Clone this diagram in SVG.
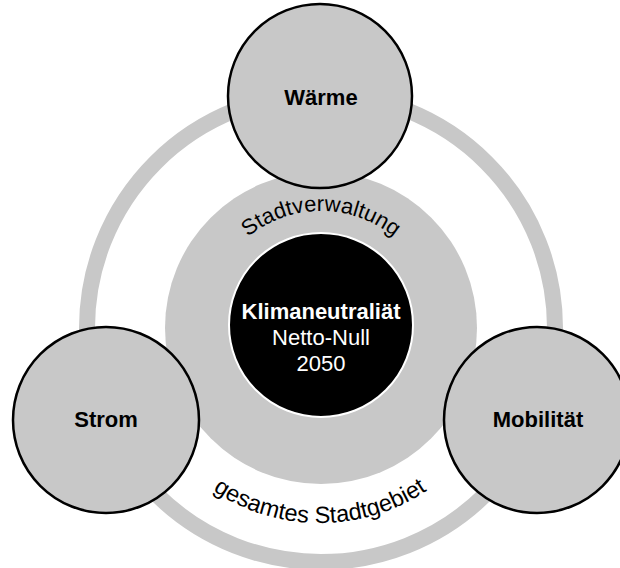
<svg xmlns="http://www.w3.org/2000/svg" width="620" height="568" viewBox="0 0 620 568">
  <style>
    .node { fill: #c8c8c8; stroke: #000; stroke-width: 2.5; }
    .lbl { font-family: "Liberation Sans", Arial, sans-serif; font-size: 22px; font-weight: bold; fill: #000; text-anchor: middle; }
    .ctr { font-family: "Liberation Sans", Arial, sans-serif; font-size: 22px; fill: #fff; text-anchor: middle; }
    .arc { font-family: "Liberation Sans", Arial, sans-serif; font-size: 22px; fill: #000; }
  </style>
  <defs>
    <path id="arcTop" d="M 205 327 A 116 116 0 0 1 437 327"/>
    <path id="arcBottom" d="M 127 330 A 193 193 0 0 0 513 330"/>
  </defs>
  <rect width="620" height="568" fill="#fff"/>
  <g id="gesamtes-stadtgebiet">
    <circle cx="321" cy="328" r="234" fill="none" stroke="#c8c8c8" stroke-width="16"/>
    <text class="arc" style="font-size:23.5px"><textPath href="#arcBottom" startOffset="50%" text-anchor="middle">gesamtes Stadtgebiet</textPath></text>
  </g>
  <g id="stadtverwaltung">
    <circle cx="321" cy="328" r="156" fill="#c8c8c8"/>
    <text class="arc"><textPath href="#arcTop" startOffset="50%" text-anchor="middle">Stadtverwaltung</textPath></text>
  </g>
  <g id="klimaneutralitaet">
    <circle cx="321" cy="325" r="92" fill="#000" stroke="#fff" stroke-width="2"/>
    <text class="ctr" x="321" y="319" font-weight="bold">Klimaneutraliät</text>
    <text class="ctr" x="321" y="345">Netto-Null</text>
    <text class="ctr" x="321" y="371">2050</text>
  </g>
  <g id="waerme">
    <circle class="node" cx="320" cy="96" r="92"/>
    <text class="lbl" x="321" y="105">Wärme</text>
  </g>
  <g id="strom">
    <circle class="node" cx="106" cy="420" r="93"/>
    <text class="lbl" x="106" y="427">Strom</text>
  </g>
  <g id="mobilitaet">
    <circle class="node" cx="537" cy="420" r="93"/>
    <text class="lbl" x="538" y="427">Mobilität</text>
  </g>
  <g id="connectors"/>
</svg>
